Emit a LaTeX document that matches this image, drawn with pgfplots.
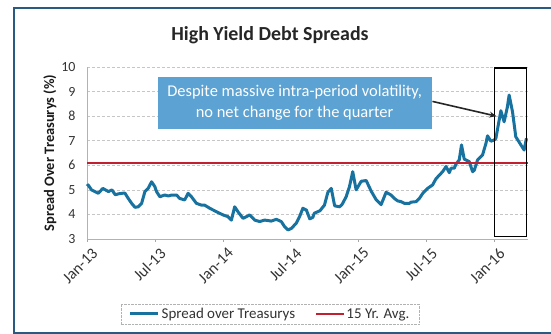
\documentclass[border=0pt]{standalone}
\usepackage{pgfplots}
\pgfplotsset{compat=1.18}
\usetikzlibrary{arrows.meta}
\usepackage{fontspec}
\setmainfont{Carlito}
\definecolor{serieblue}{RGB}{24,114,160}
\definecolor{avgred}{RGB}{192,32,48}
\definecolor{boxblue}{RGB}{92,162,210}
\definecolor{framecol}{RGB}{40,90,130}
\begin{document}
\begin{tikzpicture}
\useasboundingbox (0,0) rectangle (551bp,-334bp);
\draw[framecol, line width=1.6bp] (560bp,-8bp) -- (14bp,-8bp) -- (14bp,-333bp) -- (560bp,-333bp);
\node[font=\fontsize{20}{24}\selectfont\bfseries, text=black!85] at (270bp,-35bp) {High Yield Debt Spreads};
\begin{axis}[
  at={(87bp,-239bp)}, anchor=south west,
  scale only axis, width=441bp, height=172bp,
  xmin=0, xmax=39, ymin=3, ymax=10,
  xtick={0,6,12,18,24,30,36},
  xticklabels={Jan-13,Jul-13,Jan-14,Jul-14,Jan-15,Jul-15,Jan-16},
  ytick={3,4,5,6,7,8,9,10},
  axis x line*=bottom, axis y line*=left,
  axis line style={gray!60, line width=0.5bp},
  x axis line style={-}, y axis line style={-},
  ymajorgrids, grid style={densely dashed, gray!45, line width=0.6bp},
  xtick style={gray!70}, major tick length=3bp,
  ytick style={draw=none},
  tick align=outside,
  /pgf/number format/assume math mode=true,
  ticklabel style={font=\fontsize{14}{16}\selectfont, text=black!80},
  yticklabel style={xshift=-5bp},
  xticklabel style={font=\fontsize{16}{18}\selectfont, rotate=45, anchor=north east, xshift=3bp, yshift=-3bp},
  ylabel={Spread Over Treasurys (\%)},
  ylabel style={font=\fontsize{14.5}{17}\selectfont\bfseries, text=black!90, yshift=-2bp},
  legend columns=2,
  legend style={at={(0.415,-0.436)}, anchor=center, draw=gray!60, densely dotted,
    font=\fontsize{15}{18}\selectfont, text=black!80, inner xsep=8bp, inner ysep=2bp,
    /tikz/every even column/.append style={column sep=18bp}},
  legend image code/.code={\draw[#1, solid] (0bp,0bp) -- (28bp,0bp);},
  legend cell align=left,
  clip=false,
]
\addplot[serieblue, line width=3bp, line join=round, solid] coordinates {
(0.0,5.15) (0.1,5.2) (0.4,5.0) (0.7,4.93) (1.0,4.86) (1.4,5.06) (1.7,4.98) (1.9,4.93)
(2.2,5.0) (2.5,4.8) (2.8,4.84) (3.1,4.86) (3.35,4.87) (3.65,4.65) (3.95,4.45) (4.24,4.29)
(4.53,4.31) (4.83,4.45) (5.12,4.93) (5.41,5.06) (5.71,5.33) (6.0,5.13) (6.15,4.93)
(6.44,4.72) (6.88,4.79) (7.2,4.75) (7.47,4.79) (7.92,4.79) (8.2,4.65) (8.64,4.59)
(8.94,4.86) (9.24,4.72) (9.68,4.45) (10.12,4.38) (10.4,4.38) (10.86,4.25) (11.45,4.11)
(12.03,3.98) (12.47,3.91) (12.77,3.77) (13.06,4.31) (13.35,4.11) (13.8,3.84) (14.39,3.98)
(14.83,3.77) (15.27,3.71) (15.71,3.77) (16.3,3.73) (16.74,3.8) (17.18,3.71) (17.48,3.5)
(17.77,3.37) (18.07,3.43) (18.5,3.64) (18.8,3.91) (19.09,4.25) (19.4,4.18) (19.7,3.82)
(19.97,3.88) (20.1,4.05) (20.6,4.15) (21.0,4.38) (21.3,4.9) (21.6,5.06) (21.9,4.35)
(22.33,4.31) (22.55,4.4) (22.92,4.72) (23.21,5.13) (23.5,5.74) (23.8,5.0) (24.25,5.35)
(24.69,5.38) (25.13,4.95) (25.57,4.6) (26.01,4.4) (26.45,4.9) (26.89,4.79) (27.18,4.65)
(27.48,4.55) (27.78,4.52) (28.07,4.45) (28.51,4.45) (28.66,4.5) (29.1,4.52) (29.39,4.65)
(29.68,4.85) (29.98,5.0) (30.12,5.06) (30.56,5.2) (30.86,5.45) (31.16,5.6) (31.45,5.74)
(31.75,5.95) (32.04,5.7) (32.19,5.88) (32.48,5.88) (32.63,6.05) (32.92,6.22) (33.12,6.83)
(33.36,6.25) (33.8,6.15) (34.1,5.74) (34.25,5.8) (34.54,6.22) (34.98,6.42) (35.28,6.89)
(35.42,7.2) (35.72,6.98) (36.01,7.03) (36.16,7.1) (36.45,7.84) (36.6,8.22) (36.89,7.77)
(37.18,8.38) (37.33,8.86) (37.63,8.18) (37.92,7.16) (38.37,6.83) (38.66,6.62) (38.86,7.1)
};
\addlegendentry{Spread over Treasurys}
\addplot[avgred, line width=1.4bp, solid] coordinates {(0,6.1) (39,6.1)};
\addlegendentry{15 Yr. Avg.}
\draw[black, line width=1.1bp] (axis cs:36,3.12) rectangle (axis cs:38.88,9.96);
\node[fill=boxblue, text=white, font=\fontsize{16.5}{21}\selectfont, align=center,
  minimum width=274bp, minimum height=52bp, inner sep=0pt]
  at (axis cs:18.36,8.53) {Despite massive intra-period volatility,\\ no net change for the quarter};
\draw[black!85, line width=1.6bp, -{Stealth[length=7bp,width=6bp]}] (axis cs:30.55,8.6) -- (axis cs:36.2,8.0);
\end{axis}
\end{tikzpicture}
\end{document}
